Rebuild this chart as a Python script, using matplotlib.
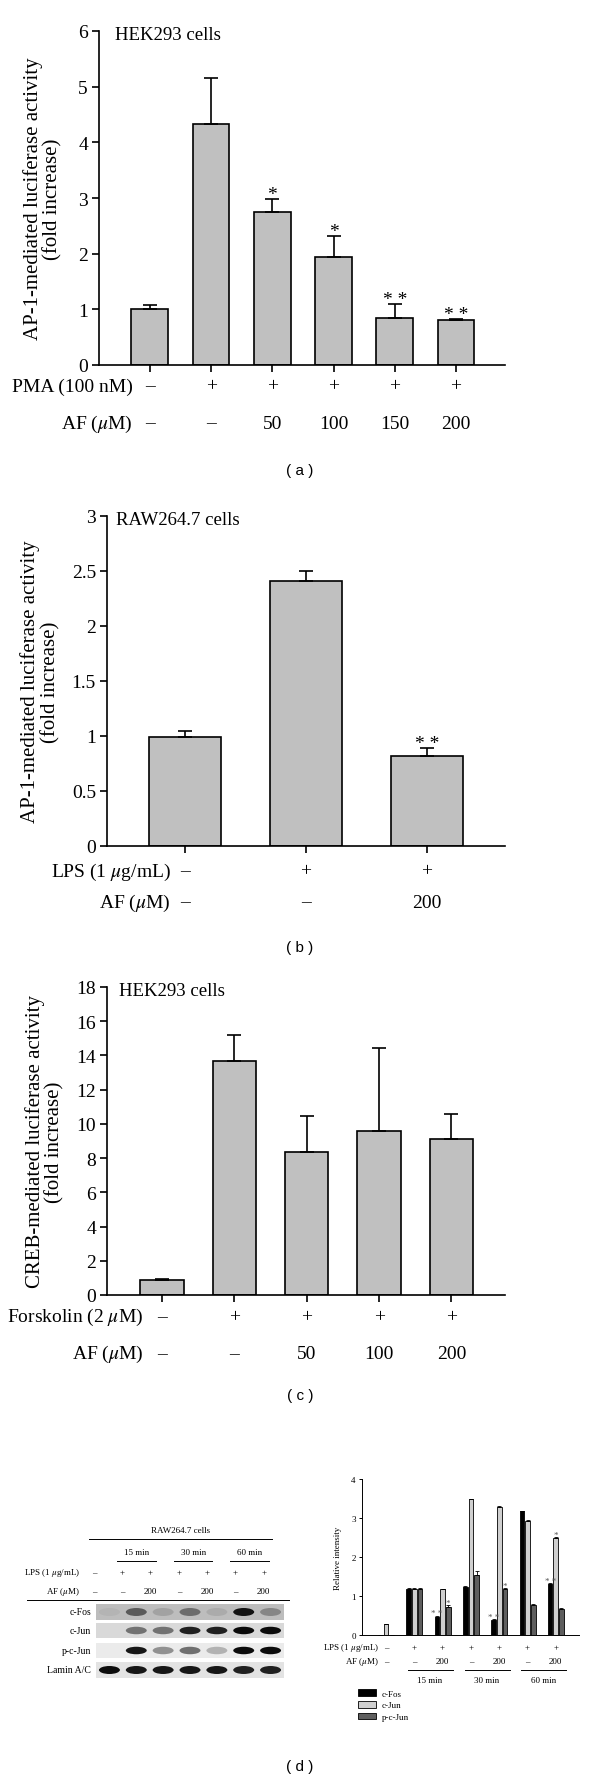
import numpy as np
import matplotlib
matplotlib.use("Agg")
import matplotlib.pyplot as plt
from matplotlib.patches import Ellipse
from matplotlib.transforms import blended_transform_factory

plt.rcParams["font.family"] = ["Liberation Serif", "DejaVu Serif"]
plt.rcParams["mathtext.fontset"] = "stix"

# (a) AP-1 luciferase, HEK293
a_values = [1.0, 4.33, 2.75, 1.94, 0.84, 0.81]
a_errors = [0.07, 0.82, 0.23, 0.38, 0.25, 0.02]
a_stars = ["", "", "*", "*", "* *", "* *"]
a_pma = ["–", "+", "+", "+", "+", "+"]
a_af = ["–", "–", "50", "100", "150", "200"]
a_yticks = [0, 1, 2, 3, 4, 5, 6]

# (b) AP-1 luciferase, RAW264.7
b_values = [0.99, 2.41, 0.82]
b_errors = [0.06, 0.09, 0.07]
b_stars = ["", "", "* *"]
b_lps = ["–", "+", "+"]
b_af = ["–", "–", "200"]
b_yticks = [0, 0.5, 1, 1.5, 2, 2.5, 3]

# (c) CREB luciferase, HEK293
c_values = [0.9, 13.7, 8.35, 9.6, 9.1]
c_errors = [0.05, 1.5, 2.1, 4.85, 1.5]
c_stars = ["", "", "", "", ""]
c_forskolin = ["–", "+", "+", "+", "+"]
c_af = ["–", "–", "50", "100", "200"]
c_yticks = [0, 2, 4, 6, 8, 10, 12, 14, 16, 18]

# (d) western blot + densitometry
d_lps = ["–", "+", "+", "+", "+", "+", "+"]
d_af = ["–", "–", "200", "–", "200", "–", "200"]
d_groups = [(1, 2, "15 min"), (3, 4, "30 min"), (5, 6, "60 min")]
d_cfos = [0, 1.18, 0.45, 1.24, 0.38, 3.17, 1.32]
d_cjun = [0.28, 1.18, 1.17, 3.48, 3.27, 2.92, 2.48]
d_pcjun = [0, 1.18, 0.73, 1.53, 1.17, 0.78, 0.66]
d_cfos_err = [0, 0.03, 0.05, 0.02, 0.02, 0.02, 0.02]
d_cjun_err = [0, 0.03, 0.02, 0.02, 0.03, 0.02, 0.03]
d_pcjun_err = [0, 0.03, 0.03, 0.11, 0.04, 0.02, 0.02]
d_cfos_stars = ["", "", "* *", "", "* *", "", "* *"]
d_cjun_stars = ["", "", "", "", "", "", "*"]
d_pcjun_stars = ["", "", "*", "", "*", "", ""]
d_yticks = [0, 1, 2, 3, 4]

blot_rows = ["c-Fos", "c-Jun", "p-c-Jun", "Lamin A/C"]
band_cfos = [0.05, 0.55, 0.15, 0.45, 0.1, 0.95, 0.3]
band_cjun = [0.0, 0.5, 0.5, 0.9, 0.9, 1.0, 1.0]
band_pcjun = [0.0, 0.95, 0.4, 0.55, 0.25, 1.0, 1.0]
band_lamin = [1.0, 0.95, 0.95, 0.95, 0.95, 0.9, 0.9]

W, H = 600, 1781
fig = plt.figure(figsize=(W / 100, H / 100), dpi=100)


def add_ax(left, top, right, bottom):
    return fig.add_axes([left / W, 1 - bottom / H, (right - left) / W, (bottom - top) / H])


def bar_panel(ax, values, errors, stars, yticks, xlim, ylabel, ylabel_x, cells, cells_x, rows, rows_y, title_x):
    x = np.arange(len(values))
    ax.bar(x, values, width=0.6, color="#c0c0c0", edgecolor="black", linewidth=1.2, zorder=2)
    ax.errorbar(x, values, yerr=[np.zeros(len(values)), errors], fmt="none", ecolor="black",
                elinewidth=1.2, capsize=5, capthick=1.2, zorder=3)
    for i, s in enumerate(stars):
        if s:
            ax.annotate(s, (x[i], values[i] + errors[i]), xytext=(0, 0), textcoords="offset points",
                        ha="center", va="baseline", fontsize=14)
    ax.set_xlim(*xlim)
    ax.set_ylim(yticks[0], yticks[-1])
    ax.set_yticks(yticks)
    ax.set_yticklabels(["{:g}".format(t) for t in yticks], fontsize=14)
    ax.set_xticks(x)
    ax.set_xticklabels([])
    for side in ["top", "right"]:
        ax.spines[side].set_visible(False)
    for side in ["left", "bottom"]:
        ax.spines[side].set_linewidth(1.2)
    ax.tick_params(direction="out", length=5, width=1.2, pad=3)
    ax.set_ylabel(ylabel, fontsize=15, linespacing=1.05)
    ax.yaxis.set_label_coords(ylabel_x, 0.5)
    ax.text(cells_x, 0.99, cells, transform=ax.transAxes, fontsize=13.5, va="center", ha="left")
    tr = blended_transform_factory(ax.transData, ax.transAxes)
    for (title, labels), ry in zip(rows, rows_y):
        ax.text(title_x, ry, title, transform=tr, ha="right", va="center", fontsize=14)
        for i, lab in enumerate(labels):
            ax.text(x[i], ry, lab, transform=tr, ha="center", va="center", fontsize=14)


def panel_label(y, text):
    fig.text(300 / W, 1 - y / H, text, ha="center", va="center", fontsize=11, family="Liberation Sans")


# (a)
ax_a = add_ax(99, 32, 505, 366)
bar_panel(ax_a, a_values, a_errors, a_stars, a_yticks, (-0.83, 5.8),
          "AP-1-mediated luciferase activity\n(fold increase)", -0.089, "HEK293 cells", 0.039,
          [("PMA (100 nM)", a_pma), ("AF ($\\mu$M)", a_af)], [-0.063, -0.174], -0.28)
panel_label(471, "( a )")

# (b)
ax_b = add_ax(107, 517, 505, 847)
bar_panel(ax_b, b_values, b_errors, b_stars, b_yticks, (-0.645, 2.645),
          "AP-1-mediated luciferase activity\n(fold increase)", -0.118, "RAW264.7 cells", 0.023,
          [("LPS (1 $\\mu$g/mL)", b_lps), ("AF ($\\mu$M)", b_af)], [-0.076, -0.17], -0.12)
panel_label(948, "( b )")

# (c)
ax_c = add_ax(107, 988, 505, 1296)
bar_panel(ax_c, c_values, c_errors, c_stars, c_yticks, (-0.76, 4.74),
          "CREB-mediated luciferase activity\n(fold increase)", -0.106, "HEK293 cells", 0.03,
          [("Forskolin (2 $\\mu$M)", c_forskolin), ("AF ($\\mu$M)", c_af)], [-0.071, -0.19], -0.26)
panel_label(1396, "( c )")

# (d) left: blot header
small = 6.5
lanes = np.arange(7)
ax_h = add_ax(27, 1520, 289, 1601)
ax_h.set_xlim(-2.37, 6.89)
ax_h.set_ylim(0, 1)
ax_h.axis("off")
ax_h.text(3.05, 0.864, "RAW264.7 cells", ha="center", va="center", fontsize=small)
ax_h.plot([-0.18, 6.29], [0.753, 0.753], color="black", lw=0.7)
for a, b, name in d_groups:
    c = (a + b) / 2
    ax_h.text(c, 0.593, name, ha="center", va="center", fontsize=small)
    ax_h.plot([c - 0.68, c + 0.68], [0.48, 0.48], color="black", lw=0.7)
ax_h.text(-0.49, 0.346, "LPS (1 $\\mu$g/mL)", ha="right", va="center", fontsize=small)
ax_h.text(-0.49, 0.111, "AF ($\\mu$M)", ha="right", va="center", fontsize=small)
for i in lanes:
    ax_h.text(i, 0.346, d_lps[i], ha="center", va="center", fontsize=small)
    ax_h.text(i, 0.111, d_af[i], ha="center", va="center", fontsize=small)
ax_h.plot([-2.37, 6.89], [0.0, 0.0], color="black", lw=0.7, clip_on=False)

# (d) left: blot strips
strip_bg = ["#bdbdbd", "#d9d9d9", "#ebebeb", "#e3e3e3"]
strip_box = [(1605, 1621), (1624, 1639), (1644, 1659), (1663, 1679)]
for name, bands, bg, (top, bottom) in zip(blot_rows, [band_cfos, band_cjun, band_pcjun, band_lamin],
                                          strip_bg, strip_box):
    ax_s = add_ax(96, top, 284, bottom)
    ax_s.set_xlim(-0.5, 6.5)
    ax_s.set_ylim(-0.5, 0.5)
    ax_s.set_facecolor(bg)
    ax_s.set_xticks([])
    ax_s.set_yticks([])
    for sp in ax_s.spines.values():
        sp.set_visible(False)
    for i, v in enumerate(bands):
        if v > 0:
            ax_s.add_patch(Ellipse((i, 0), 0.78, 0.5, facecolor="black", edgecolor="none", alpha=0.95 * v))
    ax_s.text(-0.027, 0.5, name, transform=ax_s.transAxes, ha="right", va="center", fontsize=7)

# (d) right: densitometry
ax_d = add_ax(362, 1480, 579, 1636)
off, bw = 0.2, 0.165
kw = dict(width=bw, edgecolor="black", linewidth=0.6, zorder=2)
h1 = ax_d.bar(lanes - off, d_cfos, color="black", label="c-Fos", **kw)
h2 = ax_d.bar(lanes, d_cjun, color="#cfcfcf", label="c-Jun", **kw)
h3 = ax_d.bar(lanes + off, d_pcjun, color="#5e5e5e", label="p-c-Jun", **kw)
for pos, vals, errs, stars in [(lanes - off, d_cfos, d_cfos_err, d_cfos_stars),
                                (lanes, d_cjun, d_cjun_err, d_cjun_stars),
                                (lanes + off, d_pcjun, d_pcjun_err, d_pcjun_stars)]:
    ax_d.errorbar(pos, vals, yerr=[np.zeros(7), errs], fmt="none", ecolor="black",
                  elinewidth=0.6, capsize=1.5, capthick=0.6, zorder=3)
    for i, s in enumerate(stars):
        if s:
            ax_d.annotate(s, (pos[i], vals[i] + errs[i]), xytext=(0, 0), textcoords="offset points",
                          ha="center", va="baseline", fontsize=small, color="#555555")
ax_d.set_xlim(-0.85, 6.82)
ax_d.set_ylim(0, 4)
ax_d.set_yticks(d_yticks)
ax_d.set_yticklabels([str(t) for t in d_yticks], fontsize=small)
ax_d.set_xticks([])
for side in ["top", "right"]:
    ax_d.spines[side].set_visible(False)
for side in ["left", "bottom"]:
    ax_d.spines[side].set_linewidth(0.7)
ax_d.tick_params(direction="out", length=2.5, width=0.7, pad=2)
ax_d.set_ylabel("Relative intensity", fontsize=small)
ax_d.yaxis.set_label_coords(-0.092, 0.5)
trd = blended_transform_factory(ax_d.transData, ax_d.transAxes)
ax_d.text(-0.25, -0.077, "LPS (1 $\\mu$g/mL)", transform=trd, ha="right", va="center", fontsize=small)
ax_d.text(-0.25, -0.167, "AF ($\\mu$M)", transform=trd, ha="right", va="center", fontsize=small)
for i in lanes:
    ax_d.text(i, -0.077, d_lps[i], transform=trd, ha="center", va="center", fontsize=small)
    ax_d.text(i, -0.167, d_af[i], transform=trd, ha="center", va="center", fontsize=small)
for a, b, name in d_groups:
    c = (a + b) / 2
    ax_d.plot([a - 0.22, b + 0.37], [-0.224, -0.224], color="black", lw=0.7, transform=trd, clip_on=False)
    ax_d.text(c + 0.05, -0.288, name, transform=trd, ha="center", va="center", fontsize=small)
fig.legend(handles=[h1, h2, h3], loc="upper left", bbox_to_anchor=(358 / W, 1 - 1690 / H),
           frameon=False, fontsize=small, handlelength=2.0, handleheight=0.8,
           labelspacing=0.35, handletextpad=0.6, borderpad=0, borderaxespad=0)
panel_label(1767, "( d )")

fig.savefig("out.png", dpi=100)
